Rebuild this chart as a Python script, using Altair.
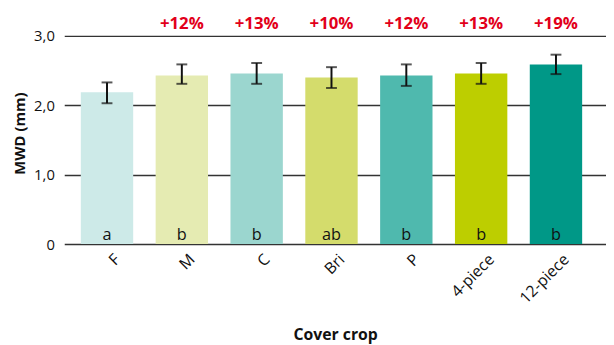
import altair as alt
import pandas as pd

crops = ["F", "M", "C", "Bri", "P", "4-piece", "12-piece"]
mwd = [2.19, 2.43, 2.46, 2.40, 2.43, 2.46, 2.59]
err_low = [2.03, 2.31, 2.31, 2.25, 2.28, 2.31, 2.45]
err_high = [2.33, 2.59, 2.61, 2.55, 2.59, 2.61, 2.73]
letters = ["a", "b", "b", "ab", "b", "b", "b"]
pct = ["", "+12%", "+13%", "+10%", "+12%", "+13%", "+19%"]
colors = ["#cdeae8", "#e5ebb2", "#9bd6cf", "#d4dc6c", "#4fb9ae", "#bdce00", "#009887"]

df = pd.DataFrame({
    "crop": crops, "mwd": mwd, "lo": err_low, "hi": err_high,
    "letter": letters, "pct": pct,
})

FONT = "Open Sans"

x = alt.X("crop:N", sort=crops,
          scale=alt.Scale(paddingInner=0.3, paddingOuter=0.27, align=0.41),
          axis=alt.Axis(title="Cover crop", labelAngle=-45, labelFontSize=16,
                        labelFont=FONT, labelColor="#111", labelPadding=7,
                        labelOffset=5,
                        ticks=False, domain=False, titleFont=FONT, titleFontSize=16,
                        titleFontWeight="bold", titleColor="#111",
                        titleBaseline="alphabetic", titleY=97))

base = alt.Chart(df)

bars = base.mark_bar().encode(
    x=x,
    y=alt.Y("mwd:Q", scale=alt.Scale(domain=[0, 3.2], nice=False),
            axis=alt.Axis(title="MWD (mm)", values=[0, 1, 2, 3],
                          labelExpr="datum.value == 0 ? '0' : replace(format(datum.value, '.1f'), '.', ',')",
                          grid=True, gridColor="#333", gridWidth=1.5,
                          ticks=False, domain=False, labelPadding=10,
                          labelFontSize=15, labelFont=FONT, labelColor="#111",
                          titleFont=FONT, titleFontSize=15, titleFontWeight="bold",
                          titleColor="#111", titlePadding=6)),
    color=alt.Color("crop:N", scale=alt.Scale(domain=crops, range=colors), legend=None),
)

rules = base.mark_rule(color="#111", strokeWidth=2).encode(
    x=alt.X("crop:N", sort=crops), y="lo:Q", y2="hi:Q")
cap_lo = base.mark_tick(color="#111", thickness=2, size=11).encode(
    x=alt.X("crop:N", sort=crops), y="lo:Q")
cap_hi = base.mark_tick(color="#111", thickness=2, size=11).encode(
    x=alt.X("crop:N", sort=crops), y="hi:Q")

pct_text = base.mark_text(color="#e2001a", fontSize=17, fontWeight="bold",
                          font=FONT, baseline="middle").encode(
    x=alt.X("crop:N", sort=crops), y=alt.datum(3.17), text="pct:N")

letter_text = base.mark_text(color="#111", fontSize=16.5, font=FONT,
                             baseline="alphabetic", dy=-4).encode(
    x=alt.X("crop:N", sort=crops), y=alt.datum(0), text="letter:N")

chart = alt.layer(bars, rules, cap_lo, cap_hi, pct_text, letter_text).properties(
    width=549, height=225,
    autosize=alt.AutoSizeParams(type="none"),
    padding={"left": 57, "top": 12, "right": 0, "bottom": 100},
).configure_view(stroke=None)

chart.save("out.html", embed_options={"renderer": "svg", "actions": False})
